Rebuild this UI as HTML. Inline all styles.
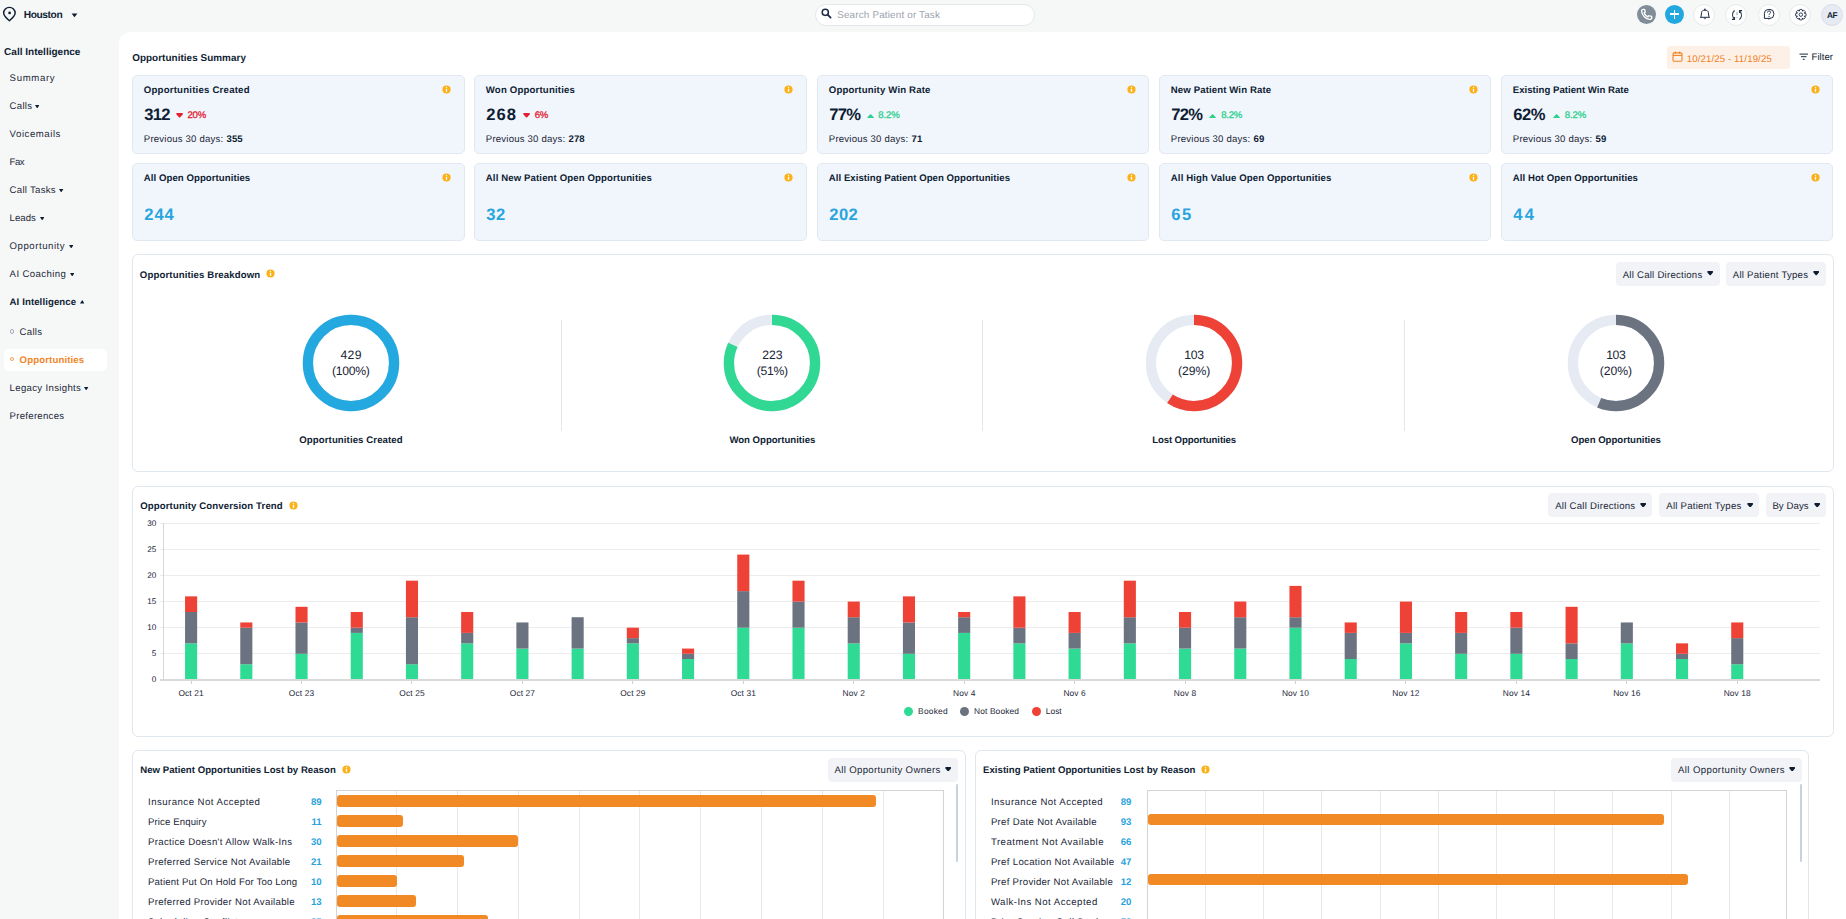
<!DOCTYPE html>
<html><head><meta charset="utf-8"><title>Opportunities</title>
<style>
html,body{margin:0;padding:0;}
body{width:1846px;height:919px;overflow:hidden;position:relative;background:#f6f8f8;font-family:"Liberation Sans",Arial,sans-serif;color:#0f1d33;}
.t{position:absolute;white-space:nowrap;line-height:1;text-rendering:geometricPrecision;}
.b{position:absolute;}
.info{border-radius:50%;background:#fbb117;}
.info i{position:absolute;left:calc(50% - 0.7px);top:22%;width:1.4px;height:1.3px;background:#fff;}
.info b{position:absolute;left:calc(50% - 0.7px);top:43%;width:1.4px;height:36%;background:#fff;}
</style></head><body>
<svg class="b" style="left:2px;top:6px" width="15" height="17" viewBox="0 0 15 17"><path d="M7.4 14.8 C5.0 12.6 1.65 10.2 1.65 7.1 A5.75 5.75 0 0 1 13.15 7.1 C13.15 10.2 9.8 12.6 7.4 14.8Z" fill="none" stroke="#0f1d33" stroke-width="1.45" stroke-linejoin="round"/><circle cx="7.6" cy="6.9" r="1.35" fill="#0f1d33"/></svg>
<div class="t" style="left:23.70px;top:11px;font-size:10.2px;font-weight:700;letter-spacing:-0.393px;">Houston</div>
<svg class="b" style="left:71px;top:13px" width="7" height="5" viewBox="0 0 7 5"><path d="M0.6 0.5 H6.4 L3.5 4.3Z" fill="#0f1d33"/></svg>
<div class="b" style="left:815.00px;top:4.00px;width:220.00px;height:22.00px;background:#fff;border:1px solid #e3e7ec;border-radius:12px;box-sizing:border-box;"></div>
<svg class="b" style="left:821px;top:8px" width="11" height="11" viewBox="0 0 11 11"><circle cx="4.3" cy="4.3" r="3.1" fill="none" stroke="#1b2a44" stroke-width="1.5"/><path d="M6.6 6.6 L9.6 9.6" stroke="#1b2a44" stroke-width="1.8" stroke-linecap="round"/></svg>
<div class="t" style="left:837.20px;top:11px;font-size:9.9px;color:#9aa2ad;letter-spacing:0.169px;">Search Patient or Task</div>
<div class="b" style="left:1637.00px;top:5.40px;width:19.00px;height:19.00px;border-radius:50%;box-sizing:border-box;background:#808d99;"></div>
<svg class="b" style="left:1640px;top:8px" width="13" height="13" viewBox="0 0 13 13"><path d="M3.2 1.3 C2.3 1.3 1.5 2.2 1.6 3.3 C2.0 7.3 5.6 10.9 9.7 11.4 C10.8 11.5 11.7 10.7 11.7 9.8 L11.7 9.0 C11.7 8.6 11.4 8.3 11.0 8.2 L9.2 7.8 C8.8 7.7 8.5 7.9 8.3 8.2 L7.9 8.9 C6.3 8.2 4.8 6.7 4.1 5.1 L4.8 4.7 C5.1 4.5 5.3 4.2 5.2 3.8 L4.8 2.0 C4.7 1.6 4.4 1.3 4.0 1.3Z" fill="none" stroke="#fff" stroke-width="1.35"/></svg>
<div class="b" style="left:1665.00px;top:5.40px;width:19.00px;height:19.00px;border-radius:50%;box-sizing:border-box;background:#22a7df;"></div>
<div class="b" style="left:1670.20px;top:13.20px;width:8.90px;height:1.80px;background:#fff;"></div>
<div class="b" style="left:1673.70px;top:9.70px;width:1.80px;height:8.90px;background:#fff;"></div>
<div class="b" style="left:1693.30px;top:3.90px;width:22.00px;height:22.00px;border-radius:50%;box-sizing:border-box;background:#fff;border:1px solid #e6e9ed;"></div>
<div class="b" style="left:1725.30px;top:3.90px;width:22.00px;height:22.00px;border-radius:50%;box-sizing:border-box;background:#fff;border:1px solid #e6e9ed;"></div>
<div class="b" style="left:1757.50px;top:3.90px;width:22.00px;height:22.00px;border-radius:50%;box-sizing:border-box;background:#fff;border:1px solid #e6e9ed;"></div>
<div class="b" style="left:1789.40px;top:3.90px;width:22.00px;height:22.00px;border-radius:50%;box-sizing:border-box;background:#fff;border:1px solid #e6e9ed;"></div>
<svg class="b" style="left:1694px;top:4px" width="22" height="22" viewBox="0 0 22 22"><path d="M7.0 12.9 L7.6 8.4 C7.8 7.0 8.8 6.2 10.95 6.2 C13.1 6.2 14.1 7.0 14.3 8.4 L14.9 12.9" fill="none" stroke="#1b2a44" stroke-width="1.0"/><path d="M6.0 13.3 H15.9" stroke="#1b2a44" stroke-width="1.0"/><circle cx="10.95" cy="5.4" r="0.85" fill="#1b2a44"/><path d="M10.1 14.2 A0.9 0.9 0 0 0 11.8 14.2" fill="none" stroke="#1b2a44" stroke-width="0.9"/></svg>
<svg class="b" style="left:1726px;top:5px" width="22" height="20" viewBox="0 0 22 20"><path d="M8.6 5.5 C6.4 7.3 5.8 10.6 7.8 13.6" fill="none" stroke="#26384e" stroke-width="1.2"/><path d="M5.9 14.3 H8.4 V11.9" fill="none" stroke="#26384e" stroke-width="1.3"/><path d="M13.4 14.5 C15.6 12.7 16.2 9.4 14.2 6.4" fill="none" stroke="#26384e" stroke-width="1.2"/><path d="M16.1 5.7 H13.6 V8.1" fill="none" stroke="#26384e" stroke-width="1.3"/><rect x="10.5" y="7.2" width="1.0" height="2.9" fill="#8d9aa8"/><rect x="10.5" y="12.0" width="1.0" height="0.8" fill="#8d9aa8"/></svg>
<svg class="b" style="left:1757px;top:4px" width="23" height="22" viewBox="0 0 23 22"><path d="M7.4 14.4 L7.4 9.4 Q7.4 5.5 11.2 5.5 L13.0 5.5 Q16.8 5.5 16.8 9.4 L16.8 10.5 Q16.8 14.4 13.0 14.4 Z" fill="none" stroke="#1b2a44" stroke-width="1.0" stroke-linejoin="round"/><path d="M11.2 15.3 H12.6" stroke="#1b2a44" stroke-width="0.8" opacity="0.6"/><path d="M10.5 8.5 C10.5 7.5 11.2 7.0 12.0 7.0 C12.9 7.0 13.6 7.5 13.6 8.3 C13.6 9.3 12.1 9.5 12.1 10.7" fill="none" stroke="#1b2a44" stroke-width="1.0"/><circle cx="12.05" cy="12.3" r="0.6" fill="#1b2a44"/></svg>
<svg class="b" style="left:1789px;top:4px" width="23" height="22" viewBox="0 0 23 22"><path d="M9.80 7.10 L10.83 5.40 L12.87 5.40 L13.90 7.10 L12.91 6.69 L14.84 6.21 L16.29 7.66 L15.81 9.59 L15.40 8.60 L17.10 9.63 L17.10 11.67 L15.40 12.70 L15.81 11.71 L16.29 13.64 L14.84 15.09 L12.91 14.61 L13.90 14.20 L12.87 15.90 L10.83 15.90 L9.80 14.20 L10.79 14.61 L8.86 15.09 L7.41 13.64 L7.89 11.71 L8.30 12.70 L6.60 11.67 L6.60 9.63 L8.30 8.60 L7.89 9.59 L7.41 7.66 L8.86 6.21 L10.79 6.69Z" fill="none" stroke="#1b2a44" stroke-width="0.85" stroke-linejoin="round"/><circle cx="11.85" cy="10.65" r="1.75" fill="none" stroke="#1b2a44" stroke-width="0.85"/></svg>
<div class="b" style="left:1821.00px;top:4.00px;width:22.00px;height:22.00px;border-radius:50%;box-sizing:border-box;background:#e5eaf3;border:1px solid #d9dee7;"></div>
<div class="t" style="left:1826.90px;top:11px;font-size:8.3px;font-weight:700;letter-spacing:-0.500px;">AF</div>
<div class="t" style="left:4.10px;top:48px;font-size:10.0px;font-weight:700;letter-spacing:0.011px;">Call Intelligence</div>
<div class="t" style="left:9.60px;top:74px;font-size:9.6px;color:#1e2838;letter-spacing:0.672px;">Summary</div>
<div class="t" style="left:9.60px;top:102px;font-size:9.6px;color:#1e2838;letter-spacing:0.290px;">Calls</div>
<svg class="b" style="left:35.10px;top:104.50px" width="4.4" height="3.5" viewBox="0 0 4.4 3.5"><path d="M0 0 H4.4 L2.2 3.5Z" fill="#0f1d33"/></svg>
<div class="t" style="left:9.60px;top:130px;font-size:9.6px;color:#1e2838;letter-spacing:0.546px;">Voicemails</div>
<div class="t" style="left:9.60px;top:158px;font-size:9.6px;color:#1e2838;letter-spacing:-0.552px;">Fax</div>
<div class="t" style="left:9.60px;top:186px;font-size:9.6px;color:#1e2838;letter-spacing:0.270px;">Call Tasks</div>
<svg class="b" style="left:59.20px;top:188.50px" width="4.4" height="3.5" viewBox="0 0 4.4 3.5"><path d="M0 0 H4.4 L2.2 3.5Z" fill="#0f1d33"/></svg>
<div class="t" style="left:9.60px;top:214px;font-size:9.6px;color:#1e2838;letter-spacing:0.035px;">Leads</div>
<svg class="b" style="left:39.80px;top:216.50px" width="4.4" height="3.5" viewBox="0 0 4.4 3.5"><path d="M0 0 H4.4 L2.2 3.5Z" fill="#0f1d33"/></svg>
<div class="t" style="left:9.60px;top:242px;font-size:9.6px;color:#1e2838;letter-spacing:0.538px;">Opportunity</div>
<svg class="b" style="left:68.90px;top:244.50px" width="4.4" height="3.5" viewBox="0 0 4.4 3.5"><path d="M0 0 H4.4 L2.2 3.5Z" fill="#0f1d33"/></svg>
<div class="t" style="left:9.60px;top:270px;font-size:9.6px;color:#1e2838;letter-spacing:0.390px;">AI Coaching</div>
<svg class="b" style="left:70.00px;top:272.50px" width="4.4" height="3.5" viewBox="0 0 4.4 3.5"><path d="M0 0 H4.4 L2.2 3.5Z" fill="#0f1d33"/></svg>
<div class="t" style="left:9.60px;top:298px;font-size:9.6px;font-weight:700;letter-spacing:0.102px;">AI Intelligence</div>
<svg class="b" style="left:79.60px;top:300.40px" width="4.4" height="3.5" viewBox="0 0 4.4 3.5"><path d="M0 3.5 H4.4 L2.2 0Z" fill="#0f1d33"/></svg>
<div class="b" style="left:9.7px;top:329.0px;width:2.7px;height:2.7px;border:0.7px solid #a3abb5;border-radius:50%;"></div>
<div class="t" style="left:19.60px;top:328px;font-size:9.6px;color:#1e2838;letter-spacing:0.290px;">Calls</div>
<div class="b" style="left:4.00px;top:349.20px;width:103.00px;height:21.50px;background:#fff;border-radius:5px;"></div>
<div class="b" style="left:9.7px;top:356.7px;width:2.7px;height:2.7px;border:0.7px solid #f3a060;border-radius:50%;"></div>
<div class="t" style="left:19.60px;top:356px;font-size:9.6px;font-weight:700;color:#f0862a;letter-spacing:0.139px;">Opportunities</div>
<div class="t" style="left:9.60px;top:384px;font-size:9.6px;color:#1e2838;letter-spacing:0.328px;">Legacy Insights</div>
<svg class="b" style="left:84.20px;top:386.50px" width="4.4" height="3.5" viewBox="0 0 4.4 3.5"><path d="M0 0 H4.4 L2.2 3.5Z" fill="#0f1d33"/></svg>
<div class="t" style="left:9.60px;top:412px;font-size:9.6px;color:#1e2838;letter-spacing:0.274px;">Preferences</div>
<div class="b" style="left:119.00px;top:32.00px;width:1727.00px;height:887.00px;background:#fff;border-top-left-radius:12px;"></div>
<div class="t" style="left:132.20px;top:54px;font-size:9.9px;font-weight:700;letter-spacing:0.061px;">Opportunities Summary</div>
<div class="b" style="left:1667.00px;top:46.00px;width:123.00px;height:22.50px;background:#fdf0e6;border-radius:3px;"></div>
<svg class="b" style="left:1672px;top:51px" width="11" height="11" viewBox="0 0 11 11"><rect x="1.0" y="1.9" width="9" height="8.4" rx="1.4" fill="none" stroke="#f08424" stroke-width="1.1"/><path d="M1 4.4 H10" stroke="#f08424" stroke-width="1.1"/><path d="M3.4 0.6 V2.8 M7.6 0.6 V2.8" stroke="#f08424" stroke-width="1.1"/></svg>
<div class="t" style="left:1686.70px;top:55px;font-size:9.6px;color:#f0801f;letter-spacing:0.141px;">10/21/25 - 11/19/25</div>
<svg class="b" style="left:1799px;top:53px" width="10" height="8" viewBox="0 0 10 8"><path d="M0.5 1.1 H9.0 M2.0 3.7 H7.5 M3.8 6.3 H5.7" stroke="#0f1d33" stroke-width="0.95"/></svg>
<div class="t" style="left:1811.60px;top:53px;font-size:9.6px;letter-spacing:0.014px;">Filter</div>
<div class="b" style="left:132.00px;top:75.00px;width:333.00px;height:78.50px;background:#f1f6fd;border:1px solid #e2e8f0;border-radius:5px;box-sizing:border-box;"></div>
<div class="b" style="left:132.00px;top:163.00px;width:333.00px;height:78.00px;background:#f1f6fd;border:1px solid #e2e8f0;border-radius:5px;box-sizing:border-box;"></div>
<div class="t" style="left:143.80px;top:86px;font-size:9.6px;font-weight:700;letter-spacing:0.223px;">Opportunities Created</div>
<div class="t" style="left:144.30px;top:107px;font-size:16.6px;font-weight:700;letter-spacing:-0.800px;">312</div>
<svg class="b" style="left:175.50px;top:112.90px" width="7.2" height="4.8" viewBox="0 0 7.2 4.8"><path d="M1.1 0.9 H6.10 L3.60 3.60Z" fill="#e3202f" stroke="#e3202f" stroke-width="1.7" stroke-linejoin="round"/></svg>
<div class="t" style="left:187.40px;top:111px;font-size:9.6px;color:#e3202f;letter-spacing:-0.205px;-webkit-text-stroke:0.3px #e3202f;">20%</div>
<div class="t" style="left:143.80px;top:135px;font-size:9.6px;color:#1c2636;letter-spacing:0.199px;">Previous 30 days:</div>
<div class="t" style="left:226.60px;top:135px;font-size:9.6px;font-weight:700;">355</div>
<svg class="b" style="left:441.60px;top:84.90px" width="9" height="9" viewBox="0 0 9 9"><circle cx="4.5" cy="4.5" r="4.1" fill="#fbb117"/><rect x="3.85" y="3.7" width="1.3" height="3.2" fill="#fff"/><circle cx="4.5" cy="2.35" r="0.72" fill="#fff"/></svg>
<div class="t" style="left:143.80px;top:174px;font-size:9.6px;font-weight:700;letter-spacing:0.064px;">All Open Opportunities</div>
<div class="t" style="left:144.30px;top:207px;font-size:16.6px;font-weight:700;color:#28a5de;letter-spacing:0.906px;">244</div>
<svg class="b" style="left:441.60px;top:173.00px" width="9" height="9" viewBox="0 0 9 9"><circle cx="4.5" cy="4.5" r="4.1" fill="#fbb117"/><rect x="3.85" y="3.7" width="1.3" height="3.2" fill="#fff"/><circle cx="4.5" cy="2.35" r="0.72" fill="#fff"/></svg>
<div class="b" style="left:474.00px;top:75.00px;width:333.00px;height:78.50px;background:#f1f6fd;border:1px solid #e2e8f0;border-radius:5px;box-sizing:border-box;"></div>
<div class="b" style="left:474.00px;top:163.00px;width:333.00px;height:78.00px;background:#f1f6fd;border:1px solid #e2e8f0;border-radius:5px;box-sizing:border-box;"></div>
<div class="t" style="left:485.80px;top:86px;font-size:9.6px;font-weight:700;letter-spacing:0.180px;">Won Opportunities</div>
<div class="t" style="left:486.30px;top:107px;font-size:16.6px;font-weight:700;letter-spacing:0.956px;">268</div>
<svg class="b" style="left:522.80px;top:112.90px" width="7.2" height="4.8" viewBox="0 0 7.2 4.8"><path d="M1.1 0.9 H6.10 L3.60 3.60Z" fill="#e3202f" stroke="#e3202f" stroke-width="1.7" stroke-linejoin="round"/></svg>
<div class="t" style="left:534.70px;top:111px;font-size:9.6px;color:#e3202f;letter-spacing:-0.172px;-webkit-text-stroke:0.3px #e3202f;">6%</div>
<div class="t" style="left:485.80px;top:135px;font-size:9.6px;color:#1c2636;letter-spacing:0.199px;">Previous 30 days:</div>
<div class="t" style="left:568.60px;top:135px;font-size:9.6px;font-weight:700;">278</div>
<svg class="b" style="left:783.60px;top:84.90px" width="9" height="9" viewBox="0 0 9 9"><circle cx="4.5" cy="4.5" r="4.1" fill="#fbb117"/><rect x="3.85" y="3.7" width="1.3" height="3.2" fill="#fff"/><circle cx="4.5" cy="2.35" r="0.72" fill="#fff"/></svg>
<div class="t" style="left:485.80px;top:174px;font-size:9.6px;font-weight:700;letter-spacing:0.120px;">All New Patient Open Opportunities</div>
<div class="t" style="left:486.30px;top:207px;font-size:16.6px;font-weight:700;color:#28a5de;letter-spacing:0.441px;">32</div>
<svg class="b" style="left:783.60px;top:173.00px" width="9" height="9" viewBox="0 0 9 9"><circle cx="4.5" cy="4.5" r="4.1" fill="#fbb117"/><rect x="3.85" y="3.7" width="1.3" height="3.2" fill="#fff"/><circle cx="4.5" cy="2.35" r="0.72" fill="#fff"/></svg>
<div class="b" style="left:817.00px;top:75.00px;width:332.00px;height:78.50px;background:#f1f6fd;border:1px solid #e2e8f0;border-radius:5px;box-sizing:border-box;"></div>
<div class="b" style="left:817.00px;top:163.00px;width:332.00px;height:78.00px;background:#f1f6fd;border:1px solid #e2e8f0;border-radius:5px;box-sizing:border-box;"></div>
<div class="t" style="left:828.80px;top:86px;font-size:9.6px;font-weight:700;letter-spacing:0.159px;">Opportunity Win Rate</div>
<div class="t" style="left:829.30px;top:107px;font-size:16.6px;font-weight:700;letter-spacing:-0.800px;">77%</div>
<svg class="b" style="left:866.70px;top:113.60px" width="7.2" height="4.8" viewBox="0 0 7.2 4.8"><path d="M1.1 3.90 H6.10 L3.60 1.2Z" fill="#2fd08d" stroke="#2fd08d" stroke-width="1.7" stroke-linejoin="round"/></svg>
<div class="t" style="left:878.30px;top:111px;font-size:9.6px;color:#2fd08d;letter-spacing:-0.093px;-webkit-text-stroke:0.3px #2fd08d;">8.2%</div>
<div class="t" style="left:828.80px;top:135px;font-size:9.6px;color:#1c2636;letter-spacing:0.199px;">Previous 30 days:</div>
<div class="t" style="left:911.60px;top:135px;font-size:9.6px;font-weight:700;">71</div>
<svg class="b" style="left:1126.60px;top:84.90px" width="9" height="9" viewBox="0 0 9 9"><circle cx="4.5" cy="4.5" r="4.1" fill="#fbb117"/><rect x="3.85" y="3.7" width="1.3" height="3.2" fill="#fff"/><circle cx="4.5" cy="2.35" r="0.72" fill="#fff"/></svg>
<div class="t" style="left:828.80px;top:174px;font-size:9.6px;font-weight:700;letter-spacing:0.041px;">All Existing Patient Open Opportunities</div>
<div class="t" style="left:829.30px;top:207px;font-size:16.6px;font-weight:700;color:#28a5de;letter-spacing:0.356px;">202</div>
<svg class="b" style="left:1126.60px;top:173.00px" width="9" height="9" viewBox="0 0 9 9"><circle cx="4.5" cy="4.5" r="4.1" fill="#fbb117"/><rect x="3.85" y="3.7" width="1.3" height="3.2" fill="#fff"/><circle cx="4.5" cy="2.35" r="0.72" fill="#fff"/></svg>
<div class="b" style="left:1159.00px;top:75.00px;width:332.00px;height:78.50px;background:#f1f6fd;border:1px solid #e2e8f0;border-radius:5px;box-sizing:border-box;"></div>
<div class="b" style="left:1159.00px;top:163.00px;width:332.00px;height:78.00px;background:#f1f6fd;border:1px solid #e2e8f0;border-radius:5px;box-sizing:border-box;"></div>
<div class="t" style="left:1170.80px;top:86px;font-size:9.6px;font-weight:700;letter-spacing:0.118px;">New Patient Win Rate</div>
<div class="t" style="left:1171.30px;top:107px;font-size:16.6px;font-weight:700;letter-spacing:-0.800px;">72%</div>
<svg class="b" style="left:1209.00px;top:113.60px" width="7.2" height="4.8" viewBox="0 0 7.2 4.8"><path d="M1.1 3.90 H6.10 L3.60 1.2Z" fill="#2fd08d" stroke="#2fd08d" stroke-width="1.7" stroke-linejoin="round"/></svg>
<div class="t" style="left:1221.30px;top:111px;font-size:9.6px;color:#2fd08d;letter-spacing:-0.259px;-webkit-text-stroke:0.3px #2fd08d;">8.2%</div>
<div class="t" style="left:1170.80px;top:135px;font-size:9.6px;color:#1c2636;letter-spacing:0.199px;">Previous 30 days:</div>
<div class="t" style="left:1253.60px;top:135px;font-size:9.6px;font-weight:700;">69</div>
<svg class="b" style="left:1468.60px;top:84.90px" width="9" height="9" viewBox="0 0 9 9"><circle cx="4.5" cy="4.5" r="4.1" fill="#fbb117"/><rect x="3.85" y="3.7" width="1.3" height="3.2" fill="#fff"/><circle cx="4.5" cy="2.35" r="0.72" fill="#fff"/></svg>
<div class="t" style="left:1170.80px;top:174px;font-size:9.6px;font-weight:700;letter-spacing:0.121px;">All High Value Open Opportunities</div>
<div class="t" style="left:1171.30px;top:207px;font-size:16.6px;font-weight:700;color:#28a5de;letter-spacing:1.541px;">65</div>
<svg class="b" style="left:1468.60px;top:173.00px" width="9" height="9" viewBox="0 0 9 9"><circle cx="4.5" cy="4.5" r="4.1" fill="#fbb117"/><rect x="3.85" y="3.7" width="1.3" height="3.2" fill="#fff"/><circle cx="4.5" cy="2.35" r="0.72" fill="#fff"/></svg>
<div class="b" style="left:1501.00px;top:75.00px;width:332.00px;height:78.50px;background:#f1f6fd;border:1px solid #e2e8f0;border-radius:5px;box-sizing:border-box;"></div>
<div class="b" style="left:1501.00px;top:163.00px;width:332.00px;height:78.00px;background:#f1f6fd;border:1px solid #e2e8f0;border-radius:5px;box-sizing:border-box;"></div>
<div class="t" style="left:1512.80px;top:86px;font-size:9.6px;font-weight:700;letter-spacing:0.022px;">Existing Patient Win Rate</div>
<div class="t" style="left:1513.30px;top:107px;font-size:16.6px;font-weight:700;letter-spacing:-0.558px;">62%</div>
<svg class="b" style="left:1552.90px;top:113.60px" width="7.2" height="4.8" viewBox="0 0 7.2 4.8"><path d="M1.1 3.90 H6.10 L3.60 1.2Z" fill="#2fd08d" stroke="#2fd08d" stroke-width="1.7" stroke-linejoin="round"/></svg>
<div class="t" style="left:1564.80px;top:111px;font-size:9.6px;color:#2fd08d;letter-spacing:-0.126px;-webkit-text-stroke:0.3px #2fd08d;">8.2%</div>
<div class="t" style="left:1512.80px;top:135px;font-size:9.6px;color:#1c2636;letter-spacing:0.199px;">Previous 30 days:</div>
<div class="t" style="left:1595.60px;top:135px;font-size:9.6px;font-weight:700;">59</div>
<svg class="b" style="left:1810.60px;top:84.90px" width="9" height="9" viewBox="0 0 9 9"><circle cx="4.5" cy="4.5" r="4.1" fill="#fbb117"/><rect x="3.85" y="3.7" width="1.3" height="3.2" fill="#fff"/><circle cx="4.5" cy="2.35" r="0.72" fill="#fff"/></svg>
<div class="t" style="left:1512.80px;top:174px;font-size:9.6px;font-weight:700;letter-spacing:0.059px;">All Hot Open Opportunities</div>
<div class="t" style="left:1513.30px;top:207px;font-size:16.6px;font-weight:700;color:#28a5de;letter-spacing:2.341px;">44</div>
<svg class="b" style="left:1810.60px;top:173.00px" width="9" height="9" viewBox="0 0 9 9"><circle cx="4.5" cy="4.5" r="4.1" fill="#fbb117"/><rect x="3.85" y="3.7" width="1.3" height="3.2" fill="#fff"/><circle cx="4.5" cy="2.35" r="0.72" fill="#fff"/></svg>
<div class="b" style="left:132.00px;top:254.00px;width:1701.60px;height:218.00px;background:#fff;border:1px solid #e1e7ef;border-radius:6px;box-sizing:border-box;"></div>
<div class="t" style="left:139.80px;top:271px;font-size:9.6px;font-weight:700;letter-spacing:0.144px;">Opportunities Breakdown</div>
<svg class="b" style="left:266.10px;top:269.30px" width="9" height="9" viewBox="0 0 9 9"><circle cx="4.5" cy="4.5" r="4.1" fill="#fbb117"/><rect x="3.85" y="3.7" width="1.3" height="3.2" fill="#fff"/><circle cx="4.5" cy="2.35" r="0.72" fill="#fff"/></svg>
<div class="b" style="left:1616.00px;top:262.00px;width:104.00px;height:24.00px;background:#f1f3f6;border-radius:4px;"></div>
<div class="t" style="left:1622.70px;top:271px;font-size:9.6px;color:#1b2638;letter-spacing:0.243px;">All Call Directions</div>
<svg class="b" style="left:1706.70px;top:271.00px" width="6.4" height="4.6" viewBox="0 0 6.4 4.6"><path d="M1.1 0.9 H5.30 L3.20 3.40Z" fill="#0f1d33" stroke="#0f1d33" stroke-width="1.7" stroke-linejoin="round"/></svg>
<div class="b" style="left:1726.00px;top:262.00px;width:99.50px;height:24.00px;background:#f1f3f6;border-radius:4px;"></div>
<div class="t" style="left:1732.80px;top:271px;font-size:9.6px;color:#1b2638;letter-spacing:0.242px;">All Patient Types</div>
<svg class="b" style="left:1813.00px;top:271.00px" width="6.4" height="4.6" viewBox="0 0 6.4 4.6"><path d="M1.1 0.9 H5.30 L3.20 3.40Z" fill="#0f1d33" stroke="#0f1d33" stroke-width="1.7" stroke-linejoin="round"/></svg>
<svg class="b" style="left:301.00px;top:313.45px" width="100" height="100" viewBox="0 0 100 100"><circle cx="50" cy="50" r="43.10" fill="none" stroke="#e5eaf3" stroke-width="10.30"/><circle cx="50" cy="50" r="43.10" fill="none" stroke="#23a8df" stroke-width="10.30"/></svg>
<div class="t" style="left:340.55px;top:349px;font-size:12.2px;color:#1b2638;letter-spacing:0.275px;">429</div>
<div class="t" style="left:332.08px;top:365px;font-size:12.2px;color:#1b2638;letter-spacing:-0.300px;">(100%)</div>
<div class="t" style="left:299.30px;top:436px;font-size:9.6px;font-weight:700;letter-spacing:0.103px;">Opportunities Created</div>
<svg class="b" style="left:722.40px;top:313.45px" width="100" height="100" viewBox="0 0 100 100"><circle cx="50" cy="50" r="43.10" fill="none" stroke="#e5eaf3" stroke-width="10.30"/><circle cx="50" cy="50" r="43.10" fill="none" stroke="#30d893" stroke-width="10.30" stroke-dasharray="221.52 270.81" transform="rotate(-90 50 50)"/></svg>
<div class="t" style="left:762.35px;top:349px;font-size:12.2px;color:#1b2638;letter-spacing:-0.125px;">223</div>
<div class="t" style="left:756.73px;top:365px;font-size:12.2px;color:#1b2638;letter-spacing:-0.300px;">(51%)</div>
<div class="t" style="left:729.40px;top:436px;font-size:9.6px;font-weight:700;letter-spacing:-0.014px;">Won Opportunities</div>
<svg class="b" style="left:1144.20px;top:313.45px" width="100" height="100" viewBox="0 0 100 100"><circle cx="50" cy="50" r="43.10" fill="none" stroke="#e5eaf3" stroke-width="10.30"/><circle cx="50" cy="50" r="43.10" fill="none" stroke="#ef4237" stroke-width="10.30" stroke-dasharray="160.59 270.81" transform="rotate(-90 50 50)"/></svg>
<div class="t" style="left:1184.33px;top:349px;font-size:12.2px;color:#1b2638;letter-spacing:-0.300px;">103</div>
<div class="t" style="left:1178.05px;top:365px;font-size:12.2px;color:#1b2638;letter-spacing:-0.062px;">(29%)</div>
<div class="t" style="left:1152.20px;top:436px;font-size:9.6px;font-weight:700;letter-spacing:-0.110px;">Lost Opportunities</div>
<svg class="b" style="left:1566.00px;top:313.45px" width="100" height="100" viewBox="0 0 100 100"><circle cx="50" cy="50" r="43.10" fill="none" stroke="#e5eaf3" stroke-width="10.30"/><circle cx="50" cy="50" r="43.10" fill="none" stroke="#6b7280" stroke-width="10.30" stroke-dasharray="152.46 270.81" transform="rotate(-90 50 50)"/></svg>
<div class="t" style="left:1606.13px;top:349px;font-size:12.2px;color:#1b2638;letter-spacing:-0.300px;">103</div>
<div class="t" style="left:1599.85px;top:365px;font-size:12.2px;color:#1b2638;letter-spacing:-0.062px;">(20%)</div>
<div class="t" style="left:1571.00px;top:436px;font-size:9.6px;font-weight:700;letter-spacing:-0.008px;">Open Opportunities</div>
<div class="b" style="left:561.00px;top:320.00px;width:1.00px;height:111.00px;background:#e3e6ea;"></div>
<div class="b" style="left:982.10px;top:320.00px;width:1.00px;height:111.00px;background:#e3e6ea;"></div>
<div class="b" style="left:1404.00px;top:320.00px;width:1.00px;height:111.00px;background:#e3e6ea;"></div>
<div class="b" style="left:132.00px;top:486.00px;width:1701.60px;height:251.00px;background:#fff;border:1px solid #e1e7ef;border-radius:6px;box-sizing:border-box;"></div>
<div class="t" style="left:140.20px;top:502px;font-size:9.6px;font-weight:700;letter-spacing:0.126px;">Opportunity Conversion Trend</div>
<svg class="b" style="left:288.50px;top:501.20px" width="9" height="9" viewBox="0 0 9 9"><circle cx="4.5" cy="4.5" r="4.1" fill="#fbb117"/><rect x="3.85" y="3.7" width="1.3" height="3.2" fill="#fff"/><circle cx="4.5" cy="2.35" r="0.72" fill="#fff"/></svg>
<div class="b" style="left:1548.30px;top:493.00px;width:103.40px;height:23.60px;background:#f1f3f6;border-radius:4px;"></div>
<div class="t" style="left:1555.20px;top:502px;font-size:9.6px;color:#1b2638;letter-spacing:0.265px;">All Call Directions</div>
<svg class="b" style="left:1639.70px;top:502.70px" width="6.4" height="4.6" viewBox="0 0 6.4 4.6"><path d="M1.1 0.9 H5.30 L3.20 3.40Z" fill="#0f1d33" stroke="#0f1d33" stroke-width="1.7" stroke-linejoin="round"/></svg>
<div class="b" style="left:1659.00px;top:493.00px;width:100.00px;height:23.60px;background:#f1f3f6;border-radius:4px;"></div>
<div class="t" style="left:1666.30px;top:502px;font-size:9.6px;color:#1b2638;letter-spacing:0.229px;">All Patient Types</div>
<svg class="b" style="left:1746.50px;top:502.70px" width="6.4" height="4.6" viewBox="0 0 6.4 4.6"><path d="M1.1 0.9 H5.30 L3.20 3.40Z" fill="#0f1d33" stroke="#0f1d33" stroke-width="1.7" stroke-linejoin="round"/></svg>
<div class="b" style="left:1766.00px;top:493.00px;width:59.70px;height:23.60px;background:#f1f3f6;border-radius:4px;"></div>
<div class="t" style="left:1772.40px;top:502px;font-size:9.6px;color:#1b2638;letter-spacing:0.077px;">By Days</div>
<svg class="b" style="left:1813.50px;top:502.70px" width="6.4" height="4.6" viewBox="0 0 6.4 4.6"><path d="M1.1 0.9 H5.30 L3.20 3.40Z" fill="#0f1d33" stroke="#0f1d33" stroke-width="1.7" stroke-linejoin="round"/></svg>
<div class="b" style="left:160.00px;top:653.29px;width:1660.10px;height:1.00px;background:#ececec;"></div>
<div class="b" style="left:160.00px;top:627.18px;width:1660.10px;height:1.00px;background:#ececec;"></div>
<div class="b" style="left:160.00px;top:601.07px;width:1660.10px;height:1.00px;background:#ececec;"></div>
<div class="b" style="left:160.00px;top:574.96px;width:1660.10px;height:1.00px;background:#ececec;"></div>
<div class="b" style="left:160.00px;top:548.85px;width:1660.10px;height:1.00px;background:#ececec;"></div>
<div class="b" style="left:160.00px;top:522.74px;width:1660.10px;height:1.00px;background:#ececec;"></div>
<div class="t" style="left:151.74px;top:676px;font-size:8.2px;color:#1b2638;">0</div>
<div class="t" style="left:151.74px;top:650px;font-size:8.2px;color:#1b2638;">5</div>
<div class="t" style="left:147.18px;top:624px;font-size:8.2px;color:#1b2638;">10</div>
<div class="t" style="left:147.18px;top:598px;font-size:8.2px;color:#1b2638;">15</div>
<div class="t" style="left:147.18px;top:572px;font-size:8.2px;color:#1b2638;">20</div>
<div class="t" style="left:147.18px;top:546px;font-size:8.2px;color:#1b2638;">25</div>
<div class="t" style="left:147.18px;top:520px;font-size:8.2px;color:#1b2638;">30</div>
<div class="b" style="left:163.00px;top:523.24px;width:1.00px;height:156.66px;background:#d6d6d6;"></div>
<svg class="b" style="left:100px;top:480px" width="1740" height="210" viewBox="0 0 1740 210"><rect x="85.05" y="163.35" width="12.1" height="36.55" fill="#2fdb94"/><rect x="85.05" y="132.01" width="12.1" height="31.33" fill="#6b7280"/><rect x="85.05" y="116.35" width="12.1" height="15.67" fill="#ef4237"/><rect x="140.27" y="184.23" width="12.1" height="15.67" fill="#2fdb94"/><rect x="140.27" y="147.68" width="12.1" height="36.55" fill="#6b7280"/><rect x="140.27" y="142.46" width="12.1" height="5.22" fill="#ef4237"/><rect x="195.49" y="173.79" width="12.1" height="26.11" fill="#2fdb94"/><rect x="195.49" y="142.46" width="12.1" height="31.33" fill="#6b7280"/><rect x="195.49" y="126.79" width="12.1" height="15.67" fill="#ef4237"/><rect x="250.71" y="152.90" width="12.1" height="47.00" fill="#2fdb94"/><rect x="250.71" y="147.68" width="12.1" height="5.22" fill="#6b7280"/><rect x="250.71" y="132.01" width="12.1" height="15.67" fill="#ef4237"/><rect x="305.93" y="184.23" width="12.1" height="15.67" fill="#2fdb94"/><rect x="305.93" y="137.24" width="12.1" height="47.00" fill="#6b7280"/><rect x="305.93" y="100.68" width="12.1" height="36.55" fill="#ef4237"/><rect x="361.15" y="163.35" width="12.1" height="36.55" fill="#2fdb94"/><rect x="361.15" y="152.90" width="12.1" height="10.44" fill="#6b7280"/><rect x="361.15" y="132.01" width="12.1" height="20.89" fill="#ef4237"/><rect x="416.37" y="168.57" width="12.1" height="31.33" fill="#2fdb94"/><rect x="416.37" y="142.46" width="12.1" height="26.11" fill="#6b7280"/><rect x="471.59" y="168.57" width="12.1" height="31.33" fill="#2fdb94"/><rect x="471.59" y="137.24" width="12.1" height="31.33" fill="#6b7280"/><rect x="526.81" y="163.35" width="12.1" height="36.55" fill="#2fdb94"/><rect x="526.81" y="158.12" width="12.1" height="5.22" fill="#6b7280"/><rect x="526.81" y="147.68" width="12.1" height="10.44" fill="#ef4237"/><rect x="582.03" y="179.01" width="12.1" height="20.89" fill="#2fdb94"/><rect x="582.03" y="173.79" width="12.1" height="5.22" fill="#6b7280"/><rect x="582.03" y="168.57" width="12.1" height="5.22" fill="#ef4237"/><rect x="637.25" y="147.68" width="12.1" height="52.22" fill="#2fdb94"/><rect x="637.25" y="111.13" width="12.1" height="36.55" fill="#6b7280"/><rect x="637.25" y="74.57" width="12.1" height="36.55" fill="#ef4237"/><rect x="692.47" y="147.68" width="12.1" height="52.22" fill="#2fdb94"/><rect x="692.47" y="121.57" width="12.1" height="26.11" fill="#6b7280"/><rect x="692.47" y="100.68" width="12.1" height="20.89" fill="#ef4237"/><rect x="747.69" y="163.35" width="12.1" height="36.55" fill="#2fdb94"/><rect x="747.69" y="137.24" width="12.1" height="26.11" fill="#6b7280"/><rect x="747.69" y="121.57" width="12.1" height="15.67" fill="#ef4237"/><rect x="802.91" y="173.79" width="12.1" height="26.11" fill="#2fdb94"/><rect x="802.91" y="142.46" width="12.1" height="31.33" fill="#6b7280"/><rect x="802.91" y="116.35" width="12.1" height="26.11" fill="#ef4237"/><rect x="858.13" y="152.90" width="12.1" height="47.00" fill="#2fdb94"/><rect x="858.13" y="137.24" width="12.1" height="15.67" fill="#6b7280"/><rect x="858.13" y="132.01" width="12.1" height="5.22" fill="#ef4237"/><rect x="913.35" y="163.35" width="12.1" height="36.55" fill="#2fdb94"/><rect x="913.35" y="147.68" width="12.1" height="15.67" fill="#6b7280"/><rect x="913.35" y="116.35" width="12.1" height="31.33" fill="#ef4237"/><rect x="968.57" y="168.57" width="12.1" height="31.33" fill="#2fdb94"/><rect x="968.57" y="152.90" width="12.1" height="15.67" fill="#6b7280"/><rect x="968.57" y="132.01" width="12.1" height="20.89" fill="#ef4237"/><rect x="1023.79" y="163.35" width="12.1" height="36.55" fill="#2fdb94"/><rect x="1023.79" y="137.24" width="12.1" height="26.11" fill="#6b7280"/><rect x="1023.79" y="100.68" width="12.1" height="36.55" fill="#ef4237"/><rect x="1079.01" y="168.57" width="12.1" height="31.33" fill="#2fdb94"/><rect x="1079.01" y="147.68" width="12.1" height="20.89" fill="#6b7280"/><rect x="1079.01" y="132.01" width="12.1" height="15.67" fill="#ef4237"/><rect x="1134.23" y="168.57" width="12.1" height="31.33" fill="#2fdb94"/><rect x="1134.23" y="137.24" width="12.1" height="31.33" fill="#6b7280"/><rect x="1134.23" y="121.57" width="12.1" height="15.67" fill="#ef4237"/><rect x="1189.45" y="147.68" width="12.1" height="52.22" fill="#2fdb94"/><rect x="1189.45" y="137.24" width="12.1" height="10.44" fill="#6b7280"/><rect x="1189.45" y="105.90" width="12.1" height="31.33" fill="#ef4237"/><rect x="1244.67" y="179.01" width="12.1" height="20.89" fill="#2fdb94"/><rect x="1244.67" y="152.90" width="12.1" height="26.11" fill="#6b7280"/><rect x="1244.67" y="142.46" width="12.1" height="10.44" fill="#ef4237"/><rect x="1299.89" y="163.35" width="12.1" height="36.55" fill="#2fdb94"/><rect x="1299.89" y="152.90" width="12.1" height="10.44" fill="#6b7280"/><rect x="1299.89" y="121.57" width="12.1" height="31.33" fill="#ef4237"/><rect x="1355.11" y="173.79" width="12.1" height="26.11" fill="#2fdb94"/><rect x="1355.11" y="152.90" width="12.1" height="20.89" fill="#6b7280"/><rect x="1355.11" y="132.01" width="12.1" height="20.89" fill="#ef4237"/><rect x="1410.33" y="173.79" width="12.1" height="26.11" fill="#2fdb94"/><rect x="1410.33" y="147.68" width="12.1" height="26.11" fill="#6b7280"/><rect x="1410.33" y="132.01" width="12.1" height="15.67" fill="#ef4237"/><rect x="1465.55" y="179.01" width="12.1" height="20.89" fill="#2fdb94"/><rect x="1465.55" y="163.35" width="12.1" height="15.67" fill="#6b7280"/><rect x="1465.55" y="126.79" width="12.1" height="36.55" fill="#ef4237"/><rect x="1520.77" y="163.35" width="12.1" height="36.55" fill="#2fdb94"/><rect x="1520.77" y="142.46" width="12.1" height="20.89" fill="#6b7280"/><rect x="1575.99" y="179.01" width="12.1" height="20.89" fill="#2fdb94"/><rect x="1575.99" y="173.79" width="12.1" height="5.22" fill="#6b7280"/><rect x="1575.99" y="163.35" width="12.1" height="10.44" fill="#ef4237"/><rect x="1631.21" y="184.23" width="12.1" height="15.67" fill="#2fdb94"/><rect x="1631.21" y="158.12" width="12.1" height="26.11" fill="#6b7280"/><rect x="1631.21" y="142.46" width="12.1" height="15.67" fill="#ef4237"/></svg>
<div class="b" style="left:160.00px;top:679.15px;width:1660.10px;height:1.50px;background:#d9d9d9;"></div>
<div class="b" style="left:190.60px;top:680.65px;width:1.00px;height:3.00px;background:#d0d0d0;"></div>
<div class="t" style="left:178.43px;top:689px;font-size:8.4px;color:#1b2638;letter-spacing:0.120px;">Oct 21</div>
<div class="b" style="left:301.04px;top:680.65px;width:1.00px;height:3.00px;background:#d0d0d0;"></div>
<div class="t" style="left:288.87px;top:689px;font-size:8.4px;color:#1b2638;letter-spacing:0.120px;">Oct 23</div>
<div class="b" style="left:411.48px;top:680.65px;width:1.00px;height:3.00px;background:#d0d0d0;"></div>
<div class="t" style="left:399.31px;top:689px;font-size:8.4px;color:#1b2638;letter-spacing:0.120px;">Oct 25</div>
<div class="b" style="left:521.92px;top:680.65px;width:1.00px;height:3.00px;background:#d0d0d0;"></div>
<div class="t" style="left:509.75px;top:689px;font-size:8.4px;color:#1b2638;letter-spacing:0.120px;">Oct 27</div>
<div class="b" style="left:632.36px;top:680.65px;width:1.00px;height:3.00px;background:#d0d0d0;"></div>
<div class="t" style="left:620.19px;top:689px;font-size:8.4px;color:#1b2638;letter-spacing:0.120px;">Oct 29</div>
<div class="b" style="left:742.80px;top:680.65px;width:1.00px;height:3.00px;background:#d0d0d0;"></div>
<div class="t" style="left:730.63px;top:689px;font-size:8.4px;color:#1b2638;letter-spacing:0.120px;">Oct 31</div>
<div class="b" style="left:853.24px;top:680.65px;width:1.00px;height:3.00px;background:#d0d0d0;"></div>
<div class="t" style="left:842.53px;top:689px;font-size:8.4px;color:#1b2638;letter-spacing:0.120px;">Nov 2</div>
<div class="b" style="left:963.68px;top:680.65px;width:1.00px;height:3.00px;background:#d0d0d0;"></div>
<div class="t" style="left:952.97px;top:689px;font-size:8.4px;color:#1b2638;letter-spacing:0.120px;">Nov 4</div>
<div class="b" style="left:1074.12px;top:680.65px;width:1.00px;height:3.00px;background:#d0d0d0;"></div>
<div class="t" style="left:1063.41px;top:689px;font-size:8.4px;color:#1b2638;letter-spacing:0.120px;">Nov 6</div>
<div class="b" style="left:1184.56px;top:680.65px;width:1.00px;height:3.00px;background:#d0d0d0;"></div>
<div class="t" style="left:1173.85px;top:689px;font-size:8.4px;color:#1b2638;letter-spacing:0.120px;">Nov 8</div>
<div class="b" style="left:1295.00px;top:680.65px;width:1.00px;height:3.00px;background:#d0d0d0;"></div>
<div class="t" style="left:1281.89px;top:689px;font-size:8.4px;color:#1b2638;letter-spacing:0.120px;">Nov 10</div>
<div class="b" style="left:1405.44px;top:680.65px;width:1.00px;height:3.00px;background:#d0d0d0;"></div>
<div class="t" style="left:1392.33px;top:689px;font-size:8.4px;color:#1b2638;letter-spacing:0.120px;">Nov 12</div>
<div class="b" style="left:1515.88px;top:680.65px;width:1.00px;height:3.00px;background:#d0d0d0;"></div>
<div class="t" style="left:1502.77px;top:689px;font-size:8.4px;color:#1b2638;letter-spacing:0.120px;">Nov 14</div>
<div class="b" style="left:1626.32px;top:680.65px;width:1.00px;height:3.00px;background:#d0d0d0;"></div>
<div class="t" style="left:1613.21px;top:689px;font-size:8.4px;color:#1b2638;letter-spacing:0.120px;">Nov 16</div>
<div class="b" style="left:1736.76px;top:680.65px;width:1.00px;height:3.00px;background:#d0d0d0;"></div>
<div class="t" style="left:1723.65px;top:689px;font-size:8.4px;color:#1b2638;letter-spacing:0.120px;">Nov 18</div>
<div class="b" style="left:904.00px;top:706.70px;width:9.00px;height:9.00px;background:#2fdb94;border-radius:50%;"></div>
<div class="t" style="left:918.10px;top:707px;font-size:8.4px;color:#1b2638;letter-spacing:0.221px;">Booked</div>
<div class="b" style="left:960.00px;top:706.70px;width:9.00px;height:9.00px;background:#6b7280;border-radius:50%;"></div>
<div class="t" style="left:974.00px;top:707px;font-size:8.4px;color:#1b2638;letter-spacing:0.134px;">Not Booked</div>
<div class="b" style="left:1032.00px;top:706.70px;width:9.00px;height:9.00px;background:#ef4237;border-radius:50%;"></div>
<div class="t" style="left:1045.80px;top:707px;font-size:8.4px;color:#1b2638;letter-spacing:0.008px;">Lost</div>
<div class="b" style="left:132.40px;top:750.00px;width:833.60px;height:200.00px;background:#fff;border:1px solid #e1e7ef;border-radius:6px;box-sizing:border-box;"></div>
<div class="t" style="left:140.20px;top:766px;font-size:9.6px;font-weight:700;letter-spacing:0.039px;">New Patient Opportunities Lost by Reason</div>
<svg class="b" style="left:342.00px;top:765.00px" width="9" height="9" viewBox="0 0 9 9"><circle cx="4.5" cy="4.5" r="4.1" fill="#fbb117"/><rect x="3.85" y="3.7" width="1.3" height="3.2" fill="#fff"/><circle cx="4.5" cy="2.35" r="0.72" fill="#fff"/></svg>
<div class="b" style="left:828.00px;top:758.30px;width:130.00px;height:23.70px;background:#f1f3f6;border-radius:4px;"></div>
<div class="t" style="left:834.50px;top:766px;font-size:9.6px;color:#1b2638;letter-spacing:0.343px;">All Opportunity Owners</div>
<svg class="b" style="left:945.10px;top:766.80px" width="6.4" height="4.6" viewBox="0 0 6.4 4.6"><path d="M1.1 0.9 H5.30 L3.20 3.40Z" fill="#0f1d33" stroke="#0f1d33" stroke-width="1.7" stroke-linejoin="round"/></svg>
<div class="b" style="left:336.00px;top:790.20px;width:607.80px;height:140.00px;border:1.5px solid #d4d4d4;border-bottom:none;box-sizing:border-box;"></div>
<div class="b" style="left:396.28px;top:790.50px;width:1.00px;height:130.00px;background:#e8e8e8;"></div>
<div class="b" style="left:457.06px;top:790.50px;width:1.00px;height:130.00px;background:#e8e8e8;"></div>
<div class="b" style="left:517.84px;top:790.50px;width:1.00px;height:130.00px;background:#e8e8e8;"></div>
<div class="b" style="left:578.62px;top:790.50px;width:1.00px;height:130.00px;background:#e8e8e8;"></div>
<div class="b" style="left:639.40px;top:790.50px;width:1.00px;height:130.00px;background:#e8e8e8;"></div>
<div class="b" style="left:700.18px;top:790.50px;width:1.00px;height:130.00px;background:#e8e8e8;"></div>
<div class="b" style="left:760.96px;top:790.50px;width:1.00px;height:130.00px;background:#e8e8e8;"></div>
<div class="b" style="left:821.74px;top:790.50px;width:1.00px;height:130.00px;background:#e8e8e8;"></div>
<div class="b" style="left:882.52px;top:790.50px;width:1.00px;height:130.00px;background:#e8e8e8;"></div>
<div class="t" style="left:148.00px;top:798px;font-size:9.6px;color:#1b2638;letter-spacing:0.479px;">Insurance Not Accepted</div>
<div class="t" style="left:310.92px;top:798px;font-size:9.6px;font-weight:700;color:#27a2dc;">89</div>
<div class="t" style="left:148.00px;top:818px;font-size:9.6px;color:#1b2638;letter-spacing:0.117px;">Price Enquiry</div>
<div class="t" style="left:311.45px;top:818px;font-size:9.6px;font-weight:700;color:#27a2dc;">11</div>
<div class="t" style="left:148.00px;top:838px;font-size:9.6px;color:#1b2638;letter-spacing:0.323px;">Practice Doesn't Allow Walk-Ins</div>
<div class="t" style="left:310.92px;top:838px;font-size:9.6px;font-weight:700;color:#27a2dc;">30</div>
<div class="t" style="left:148.00px;top:858px;font-size:9.6px;color:#1b2638;letter-spacing:0.302px;">Preferred Service Not Available</div>
<div class="t" style="left:310.92px;top:858px;font-size:9.6px;font-weight:700;color:#27a2dc;">21</div>
<div class="t" style="left:148.00px;top:878px;font-size:9.6px;color:#1b2638;letter-spacing:0.174px;">Patient Put On Hold For Too Long</div>
<div class="t" style="left:310.92px;top:878px;font-size:9.6px;font-weight:700;color:#27a2dc;">10</div>
<div class="t" style="left:148.00px;top:898px;font-size:9.6px;color:#1b2638;letter-spacing:0.314px;">Preferred Provider Not Available</div>
<div class="t" style="left:310.92px;top:898px;font-size:9.6px;font-weight:700;color:#27a2dc;">13</div>
<div class="t" style="left:148.00px;top:918px;font-size:9.6px;color:#1b2638;letter-spacing:0.434px;">Scheduling Conflict</div>
<div class="t" style="left:310.92px;top:918px;font-size:9.6px;font-weight:700;color:#27a2dc;">25</div>
<div class="b" style="left:336.60px;top:795.00px;width:539.80px;height:11.90px;background:#f18a25;border-radius:3px;"></div>
<div class="b" style="left:336.60px;top:815.00px;width:66.90px;height:11.90px;background:#f18a25;border-radius:3px;"></div>
<div class="b" style="left:336.60px;top:835.00px;width:181.90px;height:11.90px;background:#f18a25;border-radius:3px;"></div>
<div class="b" style="left:336.60px;top:855.00px;width:127.30px;height:11.90px;background:#f18a25;border-radius:3px;"></div>
<div class="b" style="left:336.60px;top:875.00px;width:60.80px;height:11.90px;background:#f18a25;border-radius:3px;"></div>
<div class="b" style="left:336.60px;top:895.00px;width:79.00px;height:11.90px;background:#f18a25;border-radius:3px;"></div>
<div class="b" style="left:336.60px;top:915.00px;width:151.60px;height:11.90px;background:#f18a25;border-radius:3px;"></div>
<div class="b" style="left:956.10px;top:783.80px;width:1.90px;height:78.00px;background:#c9d2db;border-radius:1px;"></div>
<div class="b" style="left:975.40px;top:750.00px;width:833.60px;height:200.00px;background:#fff;border:1px solid #e1e7ef;border-radius:6px;box-sizing:border-box;"></div>
<div class="t" style="left:983.10px;top:766px;font-size:9.6px;font-weight:700;letter-spacing:0.015px;">Existing Patient Opportunities Lost by Reason</div>
<svg class="b" style="left:1201.10px;top:765.00px" width="9" height="9" viewBox="0 0 9 9"><circle cx="4.5" cy="4.5" r="4.1" fill="#fbb117"/><rect x="3.85" y="3.7" width="1.3" height="3.2" fill="#fff"/><circle cx="4.5" cy="2.35" r="0.72" fill="#fff"/></svg>
<div class="b" style="left:1671.40px;top:758.30px;width:130.60px;height:23.70px;background:#f1f3f6;border-radius:4px;"></div>
<div class="t" style="left:1678.10px;top:766px;font-size:9.6px;color:#1b2638;letter-spacing:0.371px;">All Opportunity Owners</div>
<svg class="b" style="left:1789.00px;top:766.80px" width="6.4" height="4.6" viewBox="0 0 6.4 4.6"><path d="M1.1 0.9 H5.30 L3.20 3.40Z" fill="#0f1d33" stroke="#0f1d33" stroke-width="1.7" stroke-linejoin="round"/></svg>
<div class="b" style="left:1147.30px;top:790.20px;width:640.20px;height:140.00px;border:1.5px solid #d4d4d4;border-bottom:none;box-sizing:border-box;"></div>
<div class="b" style="left:1205.00px;top:790.50px;width:1.00px;height:130.00px;background:#e8e8e8;"></div>
<div class="b" style="left:1263.20px;top:790.50px;width:1.00px;height:130.00px;background:#e8e8e8;"></div>
<div class="b" style="left:1321.40px;top:790.50px;width:1.00px;height:130.00px;background:#e8e8e8;"></div>
<div class="b" style="left:1379.60px;top:790.50px;width:1.00px;height:130.00px;background:#e8e8e8;"></div>
<div class="b" style="left:1437.80px;top:790.50px;width:1.00px;height:130.00px;background:#e8e8e8;"></div>
<div class="b" style="left:1496.00px;top:790.50px;width:1.00px;height:130.00px;background:#e8e8e8;"></div>
<div class="b" style="left:1554.20px;top:790.50px;width:1.00px;height:130.00px;background:#e8e8e8;"></div>
<div class="b" style="left:1612.40px;top:790.50px;width:1.00px;height:130.00px;background:#e8e8e8;"></div>
<div class="b" style="left:1670.60px;top:790.50px;width:1.00px;height:130.00px;background:#e8e8e8;"></div>
<div class="b" style="left:1728.80px;top:790.50px;width:1.00px;height:130.00px;background:#e8e8e8;"></div>
<div class="t" style="left:990.90px;top:798px;font-size:9.6px;color:#1b2638;letter-spacing:0.470px;">Insurance Not Accepted</div>
<div class="t" style="left:1120.72px;top:798px;font-size:9.6px;font-weight:700;color:#27a2dc;">89</div>
<div class="t" style="left:990.90px;top:818px;font-size:9.6px;color:#1b2638;letter-spacing:0.305px;">Pref Date Not Available</div>
<div class="t" style="left:1120.72px;top:818px;font-size:9.6px;font-weight:700;color:#27a2dc;">93</div>
<div class="t" style="left:990.90px;top:838px;font-size:9.6px;color:#1b2638;letter-spacing:0.490px;">Treatment Not Available</div>
<div class="t" style="left:1120.72px;top:838px;font-size:9.6px;font-weight:700;color:#27a2dc;">66</div>
<div class="t" style="left:990.90px;top:858px;font-size:9.6px;color:#1b2638;letter-spacing:0.316px;">Pref Location Not Available</div>
<div class="t" style="left:1120.72px;top:858px;font-size:9.6px;font-weight:700;color:#27a2dc;">47</div>
<div class="t" style="left:990.90px;top:878px;font-size:9.6px;color:#1b2638;letter-spacing:0.287px;">Pref Provider Not Available</div>
<div class="t" style="left:1120.72px;top:878px;font-size:9.6px;font-weight:700;color:#27a2dc;">12</div>
<div class="t" style="left:990.90px;top:898px;font-size:9.6px;color:#1b2638;letter-spacing:0.483px;">Walk-Ins Not Accepted</div>
<div class="t" style="left:1120.72px;top:898px;font-size:9.6px;font-weight:700;color:#27a2dc;">20</div>
<div class="t" style="left:990.90px;top:918px;font-size:9.6px;color:#1b2638;letter-spacing:0.537px;">Prior Service Call Back</div>
<div class="t" style="left:1120.72px;top:918px;font-size:9.6px;font-weight:700;color:#27a2dc;">73</div>
<div class="b" style="left:1147.90px;top:813.60px;width:516.40px;height:11.90px;background:#f18a25;border-radius:3px;"></div>
<div class="b" style="left:1147.90px;top:873.60px;width:539.80px;height:11.90px;background:#f18a25;border-radius:3px;"></div>
<div class="b" style="left:1800.00px;top:783.80px;width:1.90px;height:78.00px;background:#c9d2db;border-radius:1px;"></div>
</body></html>
